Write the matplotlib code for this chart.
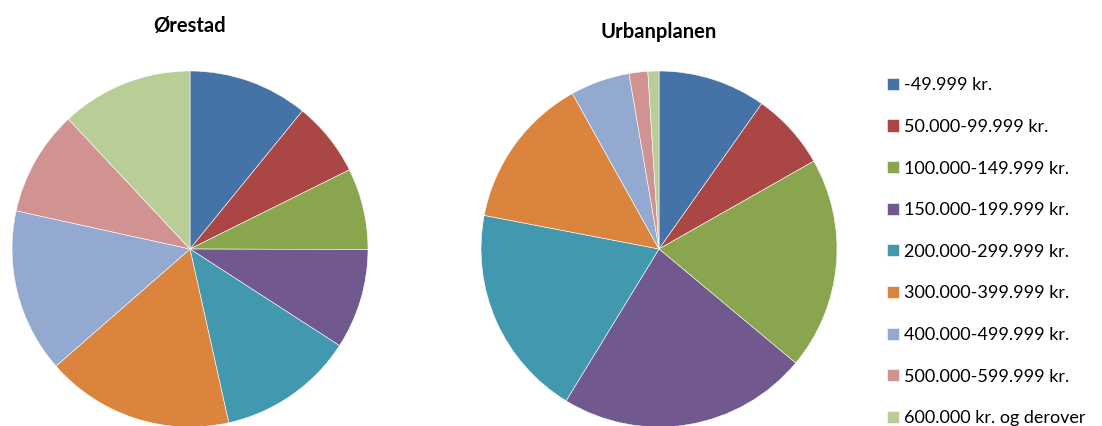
import matplotlib.pyplot as plt

# Income groups (legend order)
categories = ["-49.999 kr.", "50.000-99.999 kr.", "100.000-149.999 kr.",
              "150.000-199.999 kr.", "200.000-299.999 kr.", "300.000-399.999 kr.",
              "400.000-499.999 kr.", "500.000-599.999 kr.", "600.000 kr. og derover"]

# Share of households per group (%)
orestad = [10.9, 6.8, 7.4, 9.1, 12.4, 17.1, 14.9, 9.6, 12.0]
urbanplanen = [9.8, 7.0, 19.3, 22.7, 19.3, 13.9, 5.4, 1.7, 1.0]

colors = ["#4572A7", "#AA4643", "#89A54E", "#71588F", "#4198AF",
          "#DB843D", "#93A9CF", "#D19392", "#B9CD96"]

W, H = 1102, 426
fig = plt.figure(figsize=(W / 100, H / 100), dpi=100)
plt.rcParams['font.family'] = ['Lato', 'DejaVu Sans']


def draw_pie(cx, cy, r, values, title, title_y):
    ax = fig.add_axes([(cx - r) / W, (H - cy - r) / H, 2 * r / W, 2 * r / H])
    wedges, _ = ax.pie(values, colors=colors, startangle=90, counterclock=False,
                       radius=1, wedgeprops=dict(edgecolor="white", linewidth=0.4))
    for w in wedges:
        w.set_clip_on(False)
    ax.set_xlim(-1, 1)
    ax.set_ylim(-1, 1)
    ax.set_aspect("equal")
    ax.axis("off")
    fig.text(cx / W, 1 - title_y / H, title, ha="center", va="center",
             fontsize=14.5, fontweight="bold")
    return wedges


wedges = draw_pie(190, 249, 178, orestad, "Ørestad", 26)
draw_pie(659, 249, 178, urbanplanen, "Urbanplanen", 32)

fig.legend(wedges, categories, loc="upper left",
           bbox_to_anchor=(880 / W, 1 - 70 / H), frameon=False,
           fontsize=13, handlelength=0.65, handleheight=0.65,
           handletextpad=0.3, labelspacing=1.42, borderaxespad=0)

fig.savefig("out.png", dpi=100)
